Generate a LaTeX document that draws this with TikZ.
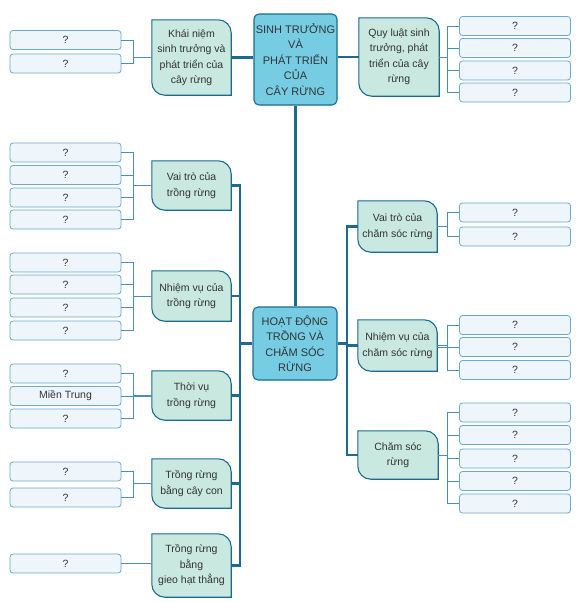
\documentclass[tikz,border=0pt]{standalone}
\usepackage{fontspec}
\setmainfont{Liberation Sans}
\usetikzlibrary{backgrounds}
\definecolor{rootfill}{HTML}{76CDE3}
\definecolor{brfill}{HTML}{C9E8E0}
\definecolor{lffill}{HTML}{EEF6FC}
\definecolor{edge}{HTML}{1B6A92}
\definecolor{lfline}{HTML}{6AAACB}
\definecolor{txt}{HTML}{333333}
\tikzset{
  root/.style = {draw=edge, fill=rootfill, rounded corners=5pt, line width=1.1pt,
    text=txt, align=center, inner sep=0pt, minimum width=83pt,
    font=\fontsize{11}{15.5}\selectfont},
  br/.style = {text=txt, align=center, inner sep=0pt, minimum width=79pt,
    font=\fontsize{10.5}{15.5}\selectfont},
  brbox/.style = {draw=edge, fill=brfill, line width=1.1pt},
  lf/.style = {draw=lfline, fill=lffill, rounded corners=3pt, line width=0.8pt,
    minimum width=111pt, minimum height=19pt, inner sep=0pt, text=txt,
    font=\fontsize{10.5}{12}\selectfont},
  main/.style = {draw=edge, line width=2.6pt},
  tw/.style = {draw=lfline!60!edge, line width=0.9pt}
}
% branch box: round top right and bottom left corners
\newcommand{\brbg}[1]{\draw[brbox] (#1.north west) -- ([xshift=-13pt]#1.north east)
  arc[start angle=90, end angle=0, radius=13pt] -- (#1.south east)
  -- ([xshift=13pt]#1.south west) arc[start angle=270, end angle=180, radius=13pt] -- cycle;}

\begin{document}
\begin{tikzpicture}[x=1pt, y=1pt]
  \useasboundingbox (0,0) rectangle (578,-603);
  % centres
  \node [root, minimum height=91pt] (sp) at (295.5,-59.5) {SINH TRƯỞNG\\VÀ\\PHÁT TRIỂN\\CỦA\\CÂY RỪNG};
  \node [root, minimum width=84pt, minimum height=73pt] (hd) at (295,-343.5) {HOẠT ĐỘNG\\TRỒNG VÀ\\CHĂM SÓC\\RỪNG};
  % branches
  \node [br, minimum height=75pt] (kn) at (191.5,-57.5) {Khái niệm\\sinh trưởng và\\phát triển của\\cây rừng};
  \node [br, minimum width=80pt, minimum height=78pt] (ql) at (399,-57) {Quy luật sinh\\trưởng, phát\\triển của cây\\rừng};
  \node [br, minimum height=49pt] (vt) at (191.5,-185.5) {Vai trò của\\trồng rừng};
  \node [br, minimum height=50pt] (nv) at (191.5,-296) {Nhiệm vụ của\\trồng rừng};
  \node [br, minimum height=49pt] (tv) at (191.5,-395.5) {Thời vụ\\trồng rừng};
  \node [br, minimum height=49pt] (cc) at (191.5,-483.5) {Trồng rừng\\bằng cây con};
  \node [br, minimum height=63pt] (gh) at (191.5,-565.5) {Trồng rừng\\bằng\\gieo hạt thẳng};
  \node [br, minimum height=51pt] (vc) at (397.5,-226.5) {Vai trò của\\chăm sóc rừng};
  \node [br, minimum height=51pt] (nc) at (397.5,-345.5) {Nhiệm vụ của\\chăm sóc rừng};
  \node [br, minimum width=80pt, minimum height=48pt] (cs) at (398,-455) {Chăm sóc\\rừng};
  \begin{scope}[on background layer]
    \brbg{kn} \brbg{ql} \brbg{vt} \brbg{nv} \brbg{tv}
    \brbg{cc} \brbg{gh} \brbg{vc} \brbg{nc} \brbg{cs}
  \end{scope}
  % leaves, left
  \node [lf] (kn1) at (65.5,-40) {?};
  \node [lf] (kn2) at (65.5,-63.5) {?};
  \node [lf] (vt1) at (65.5,-152.5) {?};
  \node [lf] (vt2) at (65.5,-175) {?};
  \node [lf] (vt3) at (65.5,-197.5) {?};
  \node [lf] (vt4) at (65.5,-219.5) {?};
  \node [lf] (nv1) at (65.5,-262.5) {?};
  \node [lf] (nv2) at (65.5,-284.5) {?};
  \node [lf] (nv3) at (65.5,-307.5) {?};
  \node [lf] (nv4) at (65.5,-330.5) {?};
  \node [lf] (tv1) at (65.5,-373.5) {?};
  \node [lf] (tv2) at (65.5,-396) {Miền Trung};
  \node [lf] (tv3) at (65.5,-418.5) {?};
  \node [lf] (cc1) at (65.5,-471.5) {?};
  \node [lf] (cc2) at (65.5,-497.5) {?};
  \node [lf] (gh1) at (65.5,-563.5) {?};
  % leaves, right
  \node [lf] (ql1) at (515,-26) {?};
  \node [lf] (ql2) at (515,-48) {?};
  \node [lf] (ql3) at (515,-70.5) {?};
  \node [lf] (ql4) at (515,-92.5) {?};
  \node [lf] (vc1) at (515,-212.5) {?};
  \node [lf] (vc2) at (515,-236.5) {?};
  \node [lf] (nc1) at (515,-325) {?};
  \node [lf] (nc2) at (515,-347) {?};
  \node [lf] (nc3) at (515,-370) {?};
  \node [lf] (cs1) at (515,-412.5) {?};
  \node [lf] (cs2) at (515,-435) {?};
  \node [lf] (cs3) at (515,-458.5) {?};
  \node [lf] (cs4) at (515,-481) {?};
  \node [lf] (cs5) at (515,-503.5) {?};
  % thick links
  \coordinate (ls) at (240,-343.5);
  \coordinate (rs) at (347,-343.5);
  \draw [main] (kn.east) -- (kn.east -| sp.west);
  \draw [main] (ql.west) -- (ql.west -| sp.east);
  \draw [main] (sp.south) -- (sp.south |- hd.north);
  \draw [main] (hd.west) -- (ls);
  \draw [main] (hd.east) -- (rs);
  \draw [main] (vt.east) -| (ls);
  \draw [main] (nv.east) -| (ls);
  \draw [main] (tv.east) -| (ls);
  \draw [main] (cc.east) -| (ls);
  \draw [main] (gh.east) -| (ls);
  \draw [main] (vc.west) -| (rs);
  \draw [main] (nc.west) -| (rs);
  \draw [main] (cs.west) -| (rs);
  % thin brackets
  \draw [tw] (kn1.east) -- ++(12,0) |- (kn.west) (kn2.east) -- ++(12,0) |- (kn.west);
  \draw [tw] (vt1.east) -- ++(12,0) |- (vt.west) (vt4.east) -- ++(12,0) |- (vt.west);
  \draw [tw] (vt2.east) -- ++(12,0) (vt3.east) -- ++(12,0);
  \draw [tw] (nv1.east) -- ++(12,0) |- (nv.west) (nv4.east) -- ++(12,0) |- (nv.west);
  \draw [tw] (nv2.east) -- ++(12,0) (nv3.east) -- ++(12,0);
  \draw [tw] (tv1.east) -- ++(12,0) |- (tv.west) (tv3.east) -- ++(12,0) |- (tv.west);
  \draw [tw] (tv2.east) -- (tv2.east -| tv.west);
  \draw [tw] (cc1.east) -- ++(12,0) |- (cc.west) (cc2.east) -- ++(12,0) |- (cc.west);
  \draw [tw] (gh1.east) -- (gh1.east -| gh.west);
  \draw [tw] (ql1.west) -- ++(-12,0) |- (ql.east) (ql4.west) -- ++(-12,0) |- (ql.east);
  \draw [tw] (ql2.west) -- ++(-12,0) (ql3.west) -- ++(-12,0);
  \draw [tw] (vc1.west) -- ++(-12,0) |- (vc.east) (vc2.west) -- ++(-12,0) |- (vc.east);
  \draw [tw] (nc1.west) -- ++(-12,0) |- (nc.east) (nc3.west) -- ++(-12,0) |- (nc.east);
  \draw [tw] (nc2.west) -- (nc2.west -| nc.east);
  \draw [tw] (cs1.west) -- ++(-12,0) |- (cs.east) (cs5.west) -- ++(-12,0) |- (cs.east);
  \draw [tw] (cs2.west) -- ++(-12,0) (cs3.west) -- ++(-12,0) (cs4.west) -- ++(-12,0);
\end{tikzpicture}
\end{document}
